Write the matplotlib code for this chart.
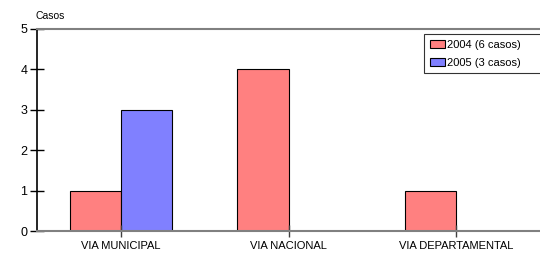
import numpy as np
import matplotlib.pyplot as plt

categorias = ['VIA MUNICIPAL', 'VIA NACIONAL', 'VIA DEPARTAMENTAL']
casos_2004 = [1, 4, 1]
casos_2005 = [3, 0, 0]
etiquetas = ['2004 (6 casos)', '2005 (3 casos)']

plt.rcParams['font.family'] = ['Liberation Sans', 'DejaVu Sans']

fig = plt.figure(figsize=(5.4, 2.59), dpi=100)
ax = fig.add_axes([37/540, 1 - 231/259, 503/540, 202/259])

x = np.arange(len(categorias))
w = 0.305
# trailing spaces give the wider legend box of the original
ax.bar(x - w/2, casos_2004, w, color='#FF8080', edgecolor='black', linewidth=0.8, label=etiquetas[0] + '     ')
ax.bar(x + w/2, casos_2005, w, color='#8080FF', edgecolor='black', linewidth=0.8, label=etiquetas[1] + '     ')

ax.set_xlim(-0.5, 2.5)
ax.set_ylim(0, 5)
ax.set_xticks(x)
ax.set_xticklabels(categorias, fontsize=8)
ax.set_yticks(range(6))
ax.tick_params(axis='y', direction='inout', length=10, width=1, labelsize=9, pad=2)
ax.tick_params(axis='x', direction='inout', length=8, width=1, color='#404040', pad=3)

ax.spines['right'].set_visible(False)
ax.spines['left'].set_color('black')
ax.spines['left'].set_linewidth(1.2)
for s in ['top', 'bottom']:
    ax.spines[s].set_color('#808080')
    ax.spines[s].set_linewidth(1.5)

ax.text(35/540, 1 - 16/259, 'Casos', transform=fig.transFigure, fontsize=7.5, va='center', ha='left')

leg = ax.legend(loc='upper right', bbox_to_anchor=(2/503 + 1.0, 1 - 5/202), fontsize=8, frameon=True,
                fancybox=False, edgecolor='black', borderpad=0.5, labelspacing=0.75,
                handlelength=1.35, handleheight=0.7, handletextpad=0.2, borderaxespad=0)
leg.get_frame().set_linewidth(0.8)

fig.savefig('out.png', dpi=100)
